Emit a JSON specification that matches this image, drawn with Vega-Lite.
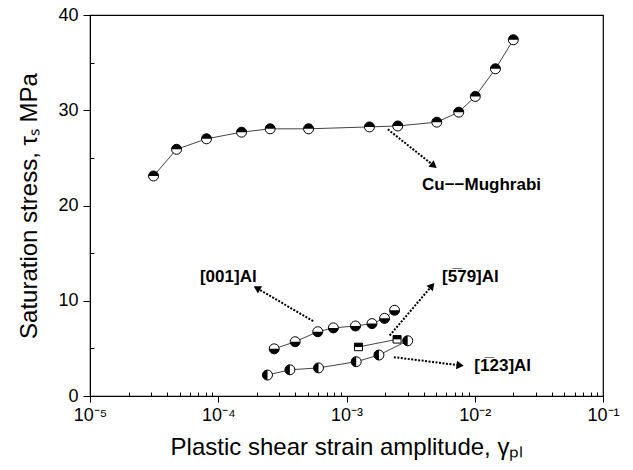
{
  "$schema": "https://vega.github.io/schema/vega-lite/v6.json",
  "width": 513,
  "height": 381,
  "autosize": {"type": "none"},
  "padding": {"left": 90, "top": 15, "right": 30, "bottom": 74},
  "background": "white",
  "config": {
    "view": {"stroke": "black", "strokeWidth": 1.2},
    "font": "Liberation Sans",
    "axis": {"domainColor": "black", "tickColor": "black", "labelColor": "black", "titleColor": "black", "grid": false, "labelFont": "Liberation Sans", "titleFont": "Liberation Sans", "titleFontWeight": "normal"}
  },
  "datasets": {
    "pts": [
      {"series": "Cu", "x": 3.13e-5, "y": 23.1},
      {"series": "Cu", "x": 4.73e-5, "y": 25.9},
      {"series": "Cu", "x": 8.1e-5, "y": 27.0},
      {"series": "Cu", "x": 1.52e-4, "y": 27.7},
      {"series": "Cu", "x": 2.54e-4, "y": 28.05},
      {"series": "Cu", "x": 5.06e-4, "y": 28.05},
      {"series": "Cu", "x": 1.51e-3, "y": 28.25},
      {"series": "Cu", "x": 2.51e-3, "y": 28.35},
      {"series": "Cu", "x": 5.06e-3, "y": 28.75},
      {"series": "Cu", "x": 7.5e-3, "y": 29.8},
      {"series": "Cu", "x": 1.01e-2, "y": 31.45},
      {"series": "Cu", "x": 1.45e-2, "y": 34.35},
      {"series": "Cu", "x": 2.0e-2, "y": 37.4},
      {"series": "A001", "x": 2.73e-4, "y": 4.95},
      {"series": "A001", "x": 3.98e-4, "y": 5.7},
      {"series": "A001", "x": 5.97e-4, "y": 6.75},
      {"series": "A001", "x": 7.9e-4, "y": 7.15},
      {"series": "A001", "x": 1.175e-3, "y": 7.35},
      {"series": "A001", "x": 1.58e-3, "y": 7.6},
      {"series": "A001", "x": 1.98e-3, "y": 8.15},
      {"series": "A001", "x": 2.37e-3, "y": 9.0},
      {"series": "A579", "x": 1.24e-3, "y": 5.15},
      {"series": "A579", "x": 2.48e-3, "y": 5.95},
      {"series": "A123", "x": 2.42e-4, "y": 2.2},
      {"series": "A123", "x": 3.62e-4, "y": 2.75},
      {"series": "A123", "x": 6.05e-4, "y": 2.95},
      {"series": "A123", "x": 1.19e-3, "y": 3.6},
      {"series": "A123", "x": 1.79e-3, "y": 4.3},
      {"series": "A123", "x": 3.0e-3, "y": 5.8}
    ],
    "arrows": [
      {"name": "cu", "x": 2.1e-3, "y": 28.0, "x2": 4.8e-3, "y2": 24.17},
      {"name": "a001", "x": 5.5e-4, "y": 7.85, "x2": 2.0e-4, "y2": 11.33},
      {"name": "a579", "x": 2.17e-3, "y": 6.35, "x2": 4.64e-3, "y2": 11.58},
      {"name": "a123", "x": 2.34e-3, "y": 4.08, "x2": 7.69e-3, "y2": 3.21}
    ],
    "labels": [
      {"text": "Cu−−Mughrabi", "x": 3.88e-3, "y": 22.1},
      {"text": "[001]Al", "x": 7.2e-5, "y": 12.45},
      {"text": "[5̅79]Al", "x": 5.56e-3, "y": 12.45},
      {"text": "[1̅23]Al", "x": 9.93e-3, "y": 3.2}
    ]
  },
  "resolve": {"scale": {"shape": "independent"}},
  "layer": [
    {
      "data": {"name": "pts"},
      "mark": {"type": "line", "color": "#444", "strokeWidth": 1},
      "encoding": {
        "x": {"field": "x", "type": "quantitative", "scale": {"type": "log", "domain": [1e-5, 0.1], "nice": false},
          "axis": {"orient": "bottom",
            "values": [1e-5,2e-5,3e-5,4e-5,5e-5,6e-5,7e-5,8e-5,9e-5,1e-4,2e-4,3e-4,4e-4,5e-4,6e-4,7e-4,8e-4,9e-4,1e-3,2e-3,3e-3,4e-3,5e-3,6e-3,7e-3,8e-3,9e-3,1e-2,2e-2,3e-2,4e-2,5e-2,6e-2,7e-2,8e-2,9e-2,1e-1],
            "tickSize": {"condition": {"test": "abs(log(datum.value)/LN10 - round(log(datum.value)/LN10)) < 0.01", "value": 6}, "value": -4},
            "labelFontSize": 18, "labelPadding": 4, "labelFlush": false, "labelOverlap": false,
            "labelExpr": "abs(log(datum.value)/LN10 - round(log(datum.value)/LN10)) > 0.01 ? '' : datum.value < 5e-5 ? '10⁻⁵' : datum.value < 5e-4 ? '10⁻⁴' : datum.value < 5e-3 ? '10⁻³' : datum.value < 5e-2 ? '10⁻²' : '10⁻¹'",
            "title": "Plastic shear strain amplitude, γₚₗ", "titleFontSize": 24, "titlePadding": 11}},
        "y": {"field": "y", "type": "quantitative", "scale": {"domain": [0, 40], "nice": false},
          "axis": {"orient": "left", "values": [0, 5, 10, 15, 20, 25, 30, 35, 40],
            "tickSize": {"condition": {"test": "datum.value % 10 == 0", "value": 7}, "value": -4},
            "labelExpr": "datum.value % 10 == 0 ? datum.label : ''",
            "labelFontSize": 18, "labelPadding": 5, "labelOverlap": false,
            "title": "Saturation stress, τₛ MPa", "titleFontSize": 24, "titlePadding": 16}},
        "detail": {"field": "series"}
      }
    },
    {
      "data": {"name": "pts"},
      "mark": {"type": "point", "filled": true, "fill": "white", "stroke": "black", "strokeWidth": 1, "opacity": 1, "size": 100},
      "encoding": {
        "x": {"field": "x", "type": "quantitative"},
        "y": {"field": "y", "type": "quantitative"},
        "shape": {"field": "series", "type": "nominal", "legend": null,
          "scale": {"domain": ["Cu", "A001", "A579", "A123"],
            "range": ["M -1 0 A 1 1 0 1 1 1 0 A 1 1 0 1 1 -1 0 Z", "M -1 0 A 1 1 0 1 1 1 0 A 1 1 0 1 1 -1 0 Z", "M -0.8 -0.75 L 0.8 -0.75 L 0.8 0.75 L -0.8 0.75 Z", "M -1 0 A 1 1 0 1 1 1 0 A 1 1 0 1 1 -1 0 Z"]}}
      }
    },
    {
      "data": {"name": "pts"},
      "mark": {"type": "point", "filled": true, "fill": "black", "strokeWidth": 0, "opacity": 1, "size": 100},
      "encoding": {
        "x": {"field": "x", "type": "quantitative"},
        "y": {"field": "y", "type": "quantitative"},
        "shape": {"field": "series", "type": "nominal", "legend": null,
          "scale": {"domain": ["Cu", "A001", "A579", "A123"],
            "range": ["M -1 0 A 1 1 0 0 1 1 0 Z", "M -1 0 A 1 1 0 0 0 1 0 Z", "M -0.8 -0.75 L 0.8 -0.75 L 0.8 0 L -0.8 0 Z", "M 0 -1 A 1 1 0 0 0 0 1 Z"]}}
      }
    },
    {
      "data": {"name": "arrows"},
      "mark": {"type": "rule", "color": "black", "strokeWidth": 2, "strokeDash": [2, 1.5]},
      "encoding": {
        "x": {"field": "x", "type": "quantitative"},
        "y": {"field": "y", "type": "quantitative"},
        "x2": {"field": "x2"},
        "y2": {"field": "y2"}
      }
    },
    {
      "data": {"name": "arrows"},
      "transform": [{"filter": "datum.name == 'cu'"}],
      "mark": {"type": "point", "shape": "triangle-up", "filled": true, "color": "black", "opacity": 1, "size": 70, "angle": 129},
      "encoding": {
        "x": {"field": "x2", "type": "quantitative"},
        "y": {"field": "y2", "type": "quantitative"}
      }
    },
    {
      "data": {"name": "arrows"},
      "transform": [{"filter": "datum.name == 'a001'"}],
      "mark": {"type": "point", "shape": "triangle-up", "filled": true, "color": "black", "opacity": 1, "size": 70, "angle": 300},
      "encoding": {
        "x": {"field": "x2", "type": "quantitative"},
        "y": {"field": "y2", "type": "quantitative"}
      }
    },
    {
      "data": {"name": "arrows"},
      "transform": [{"filter": "datum.name == 'a579'"}],
      "mark": {"type": "point", "shape": "triangle-up", "filled": true, "color": "black", "opacity": 1, "size": 70, "angle": 40},
      "encoding": {
        "x": {"field": "x2", "type": "quantitative"},
        "y": {"field": "y2", "type": "quantitative"}
      }
    },
    {
      "data": {"name": "arrows"},
      "transform": [{"filter": "datum.name == 'a123'"}],
      "mark": {"type": "point", "shape": "triangle-up", "filled": true, "color": "black", "opacity": 1, "size": 70, "angle": 97},
      "encoding": {
        "x": {"field": "x2", "type": "quantitative"},
        "y": {"field": "y2", "type": "quantitative"}
      }
    },
    {
      "data": {"name": "labels"},
      "mark": {"type": "text", "font": "Liberation Sans", "fontWeight": "bold", "fontSize": 17, "align": "left", "baseline": "middle", "color": "black"},
      "encoding": {
        "x": {"field": "x", "type": "quantitative"},
        "y": {"field": "y", "type": "quantitative"},
        "text": {"field": "text"}
      }
    }
  ]
}
